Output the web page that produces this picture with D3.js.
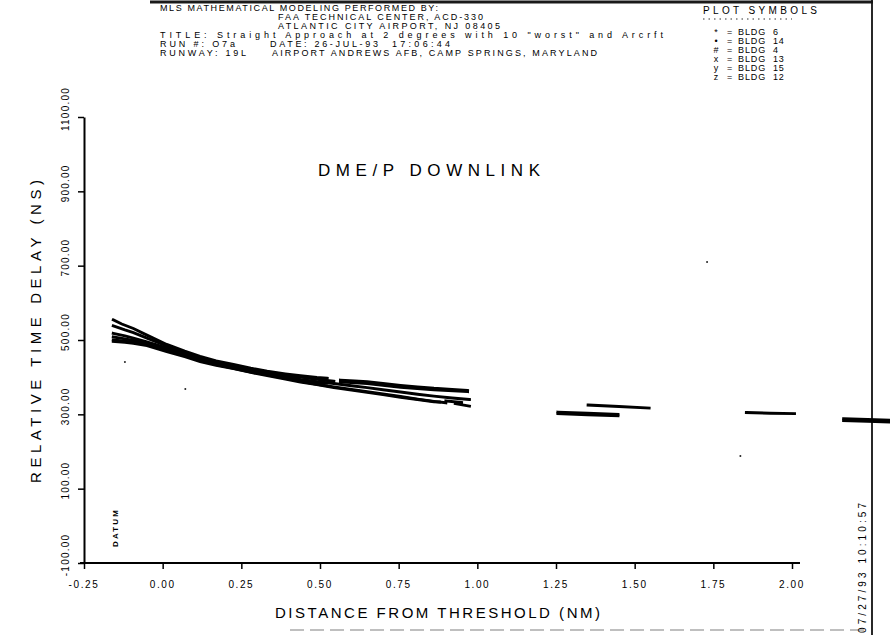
<!DOCTYPE html>
<html>
<head>
<meta charset="utf-8">
<script src="https://cdn.jsdelivr.net/npm/d3@7"></script>
<style>
  html, body { margin: 0; padding: 0; background: #fff; }
  svg { display: block; font-family: "Liberation Sans", "DejaVu Sans", sans-serif; }
</style>
</head>
<body>
<svg id="chart" width="890" height="635"></svg>
<script>
// ---------- data ----------
const xTicks = [-0.25, 0, 0.25, 0.5, 0.75, 1.0, 1.25, 1.5, 1.75, 2.0];
const xTickLabels = ["-0.25", "0.00", "0.25", "0.50", "0.75", "1.00", "1.25", "1.50", "1.75", "2.00"];
const yTicks = [-100, 100, 300, 500, 700, 900, 1100];
const yTickLabels = ["-100.00", "100.00", "300.00", "500.00", "700.00", "900.00", "1100.00"];

const headerLines = [
  "MLS MATHEMATICAL MODELING PERFORMED BY:",
  "FAA TECHNICAL CENTER, ACD-330",
  "ATLANTIC CITY AIRPORT, NJ 08405",
  "TITLE: Straight Approach at 2 degrees with 10 \"worst\" and Arcrft"
];
const runLine = ["RUN #: O7a", "DATE: 26-JUL-93", "17:06:44"];
const runwayLine = ["RUNWAY: 19L", "AIRPORT ANDREWS AFB, CAMP SPRINGS, MARYLAND"];

const legendSymbols = ["*", "\u2022", "#", "x", "y", "z"];
const legendNames = ["BLDG  6", "BLDG  14", "BLDG  4", "BLDG  13", "BLDG  15", "BLDG  12"];

// distance (NM), relative time delay (ns); null = gap
const bldg6 = [[-0.157,554],[-0.13,543],[-0.093,531],[-0.05,513],[0.013,488],[0.07,470],[0.119,456],[0.17,444],[0.225,434],[0.28,424],[0.332,416],[0.39,409],[0.438,404],[0.49,399],[0.523,397],
  null,[1.352,325],[1.45,321],[1.546,317]];
const bldg14 = [[-0.157,538],[-0.12,527],[-0.093,520],[-0.05,505],[0.013,484],[0.07,467],[0.119,452],[0.17,441],[0.225,431],[0.28,421],[0.332,413],[0.39,405],[0.438,400],[0.49,394],[0.544,389],
  null,[0.565,392],[0.61,390],[0.65,388],[0.70,383],[0.756,378],[0.81,374],[0.862,370],[0.92,367],[0.969,364],
  null,[2.164,288],[2.24,286],[2.32,284]];
const bldg4 = [[-0.157,518],[-0.12,511],[-0.093,505],[-0.05,495],[0.013,479],[0.07,464],[0.119,450],[0.17,439],[0.225,428],[0.28,418],[0.332,410],[0.39,401],[0.438,394],[0.49,388],[0.544,383],[0.60,377],[0.65,372],[0.70,366],[0.756,360],[0.81,354],[0.862,349],[0.92,344],[0.975,340],
  null,[1.256,306],[1.35,303],[1.447,300]];
const bldg13 = [[-0.157,508],[-0.12,503],[-0.093,499],[-0.05,491],[0.013,476],[0.07,462],[0.119,448],[0.17,437],[0.225,427],[0.28,417],[0.332,408],[0.39,399],[0.438,392],[0.49,386],[0.52,384],
  null,[0.565,387],[0.65,383],[0.756,373],[0.862,366],[0.969,361],
  null,[1.256,302],[1.35,299],[1.447,296]];
const bldg15 = [[-0.157,500],[-0.12,497],[-0.093,494],[-0.05,488],[0.013,472],[0.07,458],[0.119,445],[0.17,434],[0.225,424],[0.28,414],[0.332,406],[0.39,397],[0.438,389],[0.49,381],[0.544,374],[0.60,367],[0.65,361],[0.70,355],[0.756,348],[0.81,341],[0.862,335],[0.90,331],
  null,[0.93,329],[0.975,322],
  null,[1.855,305],[1.93,303],[2.008,302]];
const bldg12 = [[-0.157,496],[-0.12,494],[-0.093,491],[-0.05,485],[0.013,469],[0.07,455],[0.119,442],[0.17,432],[0.225,423],[0.28,413],[0.332,404],[0.39,395],[0.438,387],[0.49,380],[0.544,372],[0.60,365],[0.65,359],[0.70,353],[0.756,346],[0.81,340],[0.862,334],[0.88,333],
  null,[0.90,336],[0.95,332],
  null,[2.164,283],[2.24,281],[2.32,279]];
const strayPoints = [[-0.12,441],[0.072,368],[1.73,710],[1.836,188]];

const seriesList = [bldg6, bldg14, bldg4, bldg13, bldg15, bldg12];

// ---------- drawing ----------
const svg = d3.select("#chart");
svg.append("rect").attr("width", 890).attr("height", 635).attr("fill", "#fff");

const x = d3.scaleLinear().domain([-0.25, 2.0]).range([84, 792]);
const y = d3.scaleLinear().domain([-100, 1100]).range([563, 117]);

// frame lines
svg.append("line").attr("x1", 150).attr("x2", 873).attr("y1", 2).attr("y2", 2)
  .attr("stroke", "#1a1a1a").attr("stroke-width", 3);
svg.append("line").attr("x1", 872).attr("x2", 872).attr("y1", 0).attr("y2", 635)
  .attr("stroke", "#111").attr("stroke-width", 1.8);
svg.append("line").attr("x1", 290).attr("x2", 870).attr("y1", 630).attr("y2", 630)
  .attr("stroke", "#aaa").attr("stroke-width", 1.5).attr("stroke-dasharray", "14,6");

function fitText(g, str, xx, yy, len, size) {
  return g.append("text").attr("x", xx).attr("y", yy).attr("font-size", size)
    .attr("textLength", len).attr("lengthAdjust", "spacing").text(str);
}

// header text
const hdr = svg.append("g").attr("fill", "#000");
const hdrY = [10.5, 19.5, 28.5, 37.5, 46.5, 55.5];
fitText(hdr, headerLines[0], 160, hdrY[0], 278, 9);
fitText(hdr, headerLines[1], 278, hdrY[1], 205, 9);
fitText(hdr, headerLines[2], 278, hdrY[2], 222, 9);
fitText(hdr, headerLines[3], 160, hdrY[3], 503, 9);
fitText(hdr, runLine[0], 160, hdrY[4], 75, 9);
fitText(hdr, runLine[1], 270, hdrY[4], 108, 9);
fitText(hdr, runLine[2], 392, hdrY[4], 58, 9);
fitText(hdr, runwayLine[0], 160, hdrY[5], 86, 9);
fitText(hdr, runwayLine[1], 272, hdrY[5], 325, 9);

// legend
const leg = svg.append("g").attr("fill", "#000");
fitText(leg, "PLOT SYMBOLS", 703, 14, 114, 10);
leg.append("line").attr("x1", 703).attr("x2", 792).attr("y1", 19).attr("y2", 19)
  .attr("stroke", "#333").attr("stroke-width", 1).attr("stroke-dasharray", "1.5,4");
legendSymbols.forEach((s, i) => {
  const yy = 35 + i * 8.9;
  leg.append("text").attr("x", 716).attr("y", yy).attr("font-size", 9).attr("text-anchor", "middle").text(s);
  leg.append("text").attr("x", 727).attr("y", yy).attr("font-size", 9).text("=");
  leg.append("text").attr("x", 738).attr("y", yy).attr("font-size", 9).attr("xml:space", "preserve")
    .attr("letter-spacing", 0.9).text(legendNames[i]);
});

// chart title
svg.append("text").attr("x", 318).attr("y", 176).attr("font-size", 17).attr("fill", "#000")
  .attr("textLength", 222).attr("lengthAdjust", "spacing").text("DME/P DOWNLINK");

// axes
const xAxis = d3.axisBottom(x).tickValues(xTicks).tickSize(6).tickSizeOuter(0).tickFormat("");
const gx = svg.append("g").attr("transform", "translate(0,563)").call(xAxis);
gx.select(".domain").attr("stroke", "#000").attr("stroke-width", 2).attr("d", "M80,0H800");
gx.selectAll(".tick line").attr("stroke", "#000").attr("stroke-width", 1.5);

const yAxis = d3.axisLeft(y).tickValues(yTicks).tickSize(6).tickSizeOuter(0).tickFormat("");
const gy = svg.append("g").attr("transform", "translate(84,0)").call(yAxis);
gy.select(".domain").attr("stroke", "#000").attr("stroke-width", 2);
gy.selectAll(".tick line").attr("stroke", "#000").attr("stroke-width", 1.5);

// tick labels
svg.append("g").selectAll("text").data(xTicks).join("text")
  .attr("x", d => x(d)).attr("y", 588).attr("text-anchor", "middle")
  .attr("font-size", 10).attr("letter-spacing", 1.6).attr("fill", "#000")
  .text((d, i) => xTickLabels[i]);

svg.append("g").selectAll("text").data(yTicks).join("text")
  .attr("transform", d => `translate(69,${y(d) - 8}) rotate(-90)`)
  .attr("text-anchor", "middle")
  .attr("font-size", 10).attr("letter-spacing", 1.2).attr("fill", "#000")
  .text((d, i) => yTickLabels[i]);

// axis titles
svg.append("text").attr("x", 275).attr("y", 618).attr("font-size", 15).attr("fill", "#000")
  .attr("textLength", 325).attr("lengthAdjust", "spacing").text("DISTANCE FROM THRESHOLD (NM)");
svg.append("text").attr("transform", "translate(41,483) rotate(-90)").attr("font-size", 15).attr("fill", "#000")
  .attr("textLength", 303).attr("lengthAdjust", "spacing").text("RELATIVE TIME DELAY (NS)");

// datum + date stamp
svg.append("text").attr("transform", "translate(118,547) rotate(-90)").attr("font-size", 8).attr("font-weight", "bold")
  .attr("fill", "#000").attr("textLength", 37).attr("lengthAdjust", "spacing").text("DATUM");
svg.append("text").attr("transform", "translate(866,633) rotate(-90)").attr("font-size", 10)
  .attr("fill", "#000").attr("textLength", 130).attr("lengthAdjust", "spacing").text("07/27/93 10:10:57");

// data lines
const line = d3.line().defined(d => d !== null).x(d => x(d[0])).y(d => y(d[1]));
svg.append("g").selectAll("path").data(seriesList).join("path")
  .attr("d", line).attr("fill", "none").attr("stroke", "#000")
  .attr("stroke-width", 2.9).attr("stroke-linecap", "square");

svg.append("g").selectAll("circle").data(strayPoints).join("circle")
  .attr("cx", d => x(d[0])).attr("cy", d => y(d[1])).attr("r", 1).attr("fill", "#222");
</script>
</body>
</html>
